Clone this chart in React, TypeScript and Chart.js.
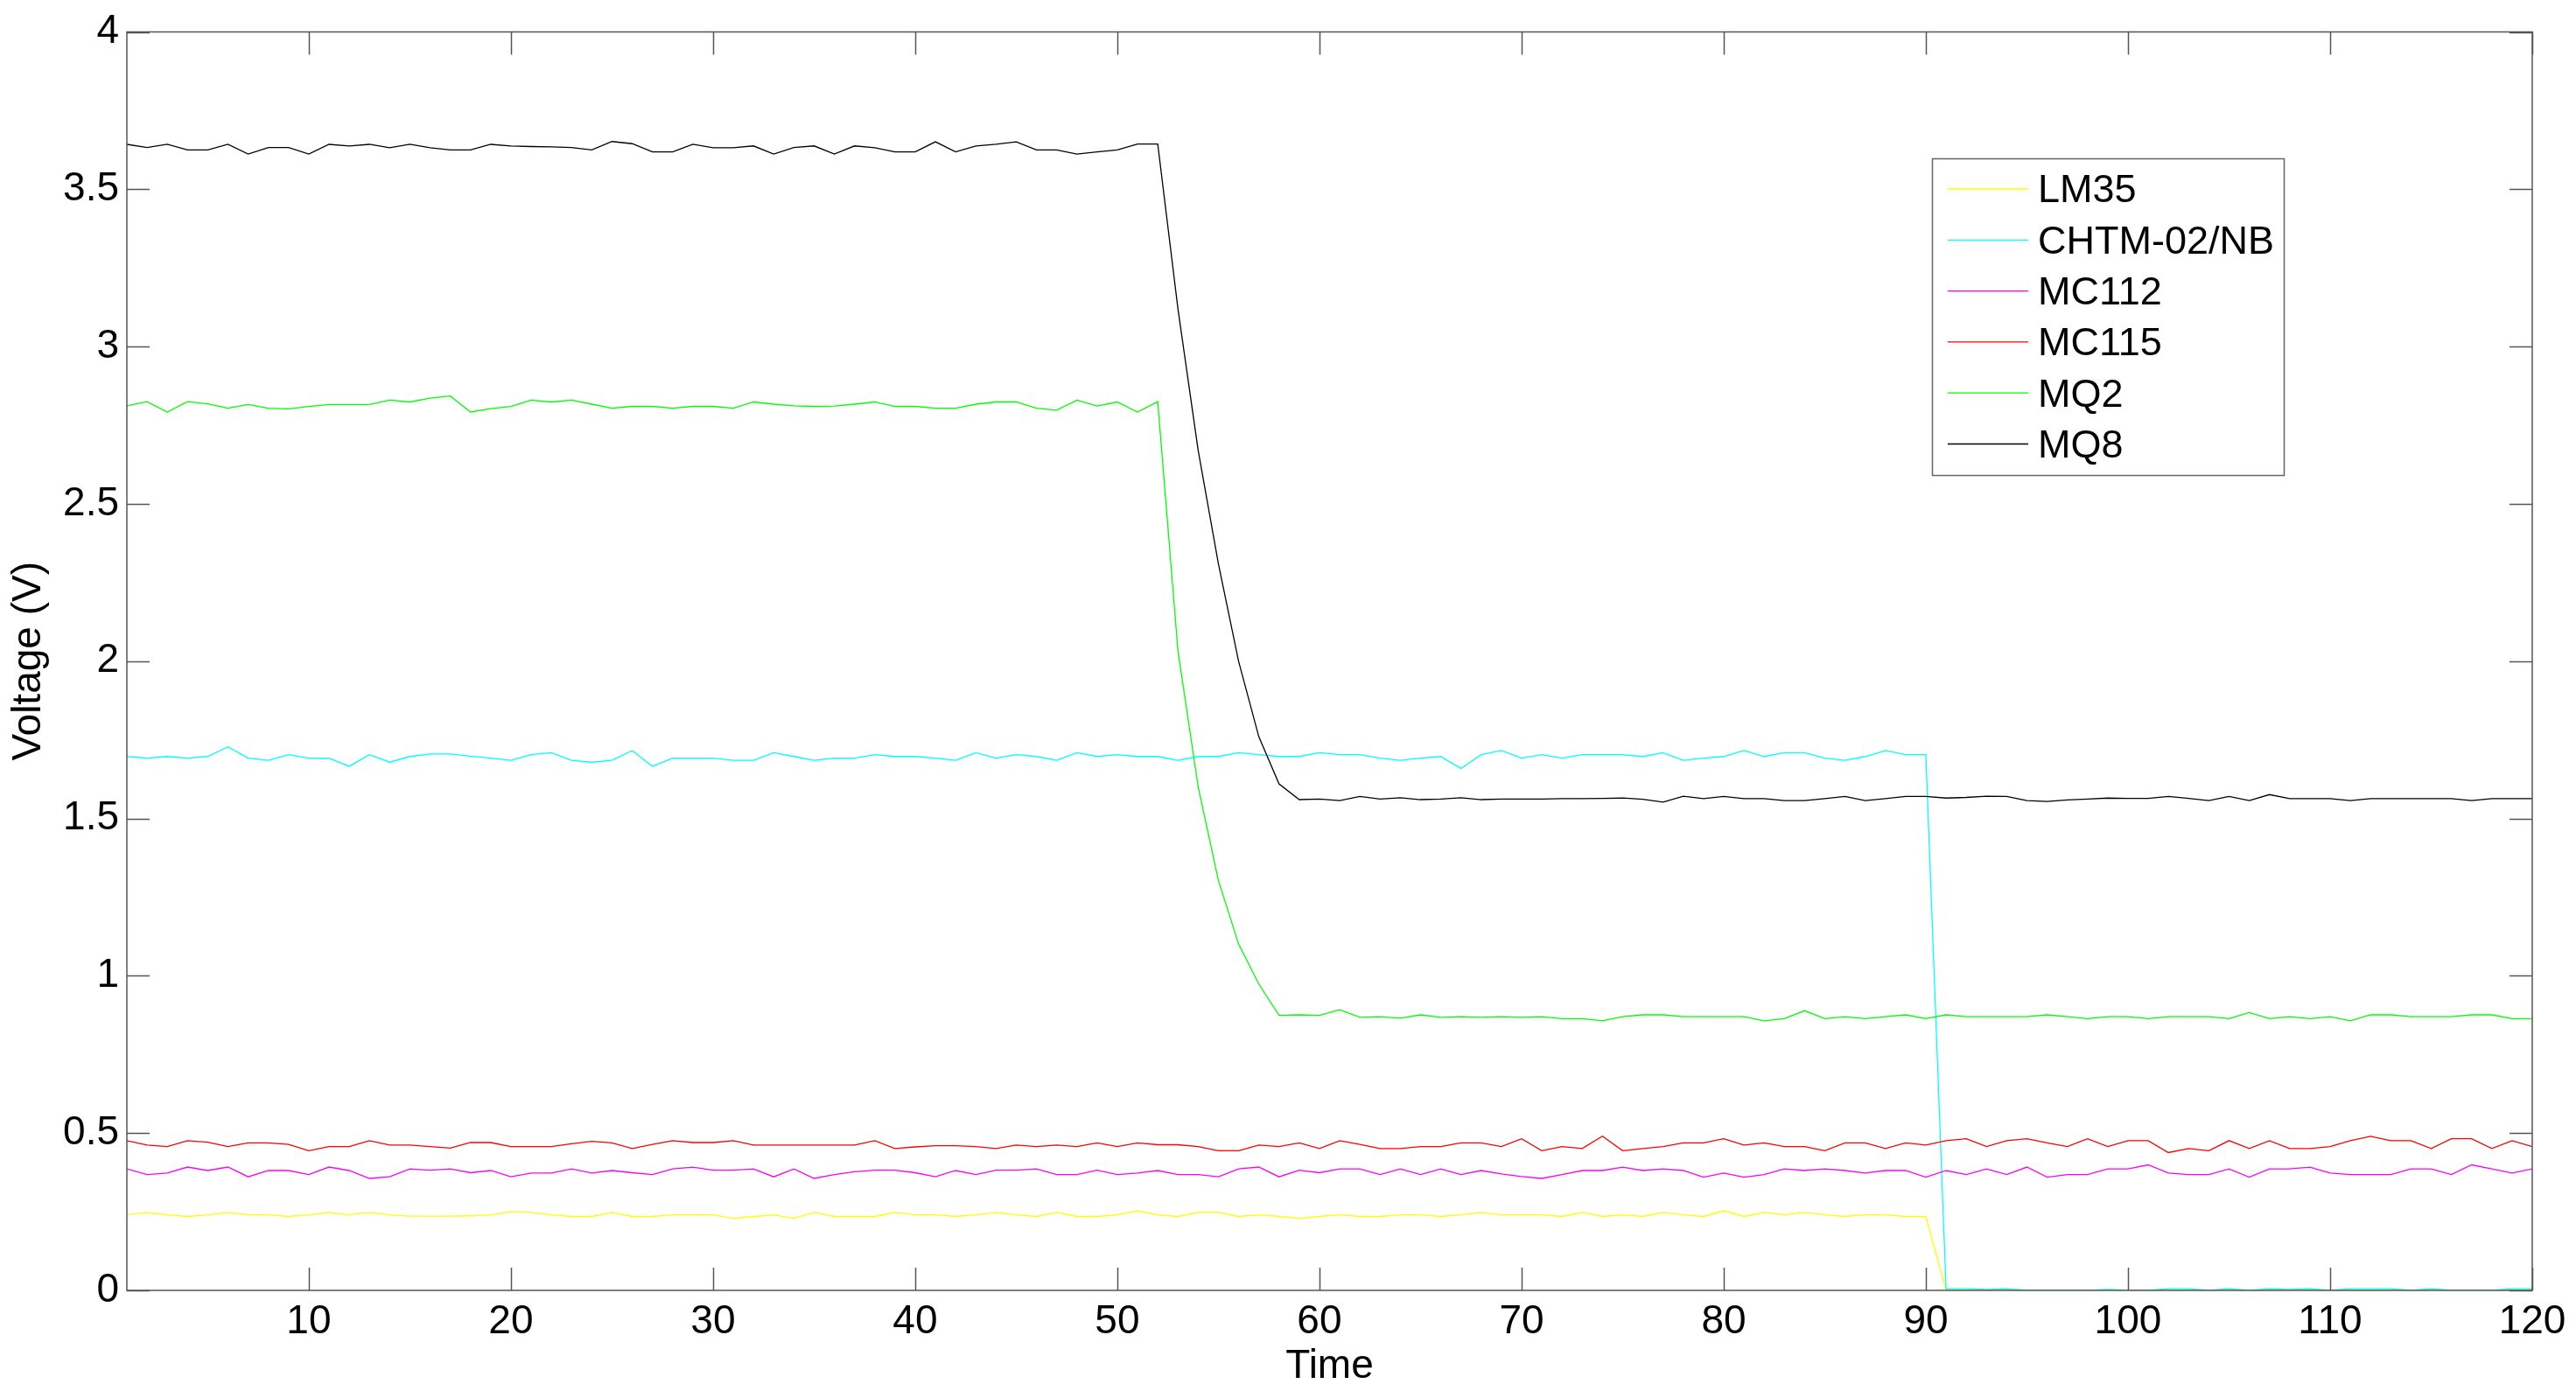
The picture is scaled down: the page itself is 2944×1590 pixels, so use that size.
import React, { useEffect, useRef } from "react";
import { Chart, registerables } from "chart.js";

Chart.register(...registerables);

const time: number[] = [
  1, 2, 3, 4, 5, 6, 7, 8, 9, 10, 11, 12, 13, 14, 15, 16, 17, 18, 19, 20,
  21, 22, 23, 24, 25, 26, 27, 28, 29, 30, 31, 32, 33, 34, 35, 36, 37, 38, 39, 40,
  41, 42, 43, 44, 45, 46, 47, 48, 49, 50, 51, 52, 53, 54, 55, 56, 57, 58, 59, 60,
  61, 62, 63, 64, 65, 66, 67, 68, 69, 70, 71, 72, 73, 74, 75, 76, 77, 78, 79, 80,
  81, 82, 83, 84, 85, 86, 87, 88, 89, 90, 91, 92, 93, 94, 95, 96, 97, 98, 99, 100,
  101, 102, 103, 104, 105, 106, 107, 108, 109, 110, 111, 112, 113, 114, 115, 116, 117, 118, 119, 120,
];

const lm35: number[] = [
  0.240, 0.248, 0.240, 0.235, 0.240, 0.248, 0.240, 0.240, 0.235, 0.240,
  0.248, 0.240, 0.248, 0.240, 0.236, 0.236, 0.236, 0.237, 0.240, 0.250,
  0.248, 0.240, 0.235, 0.235, 0.248, 0.235, 0.235, 0.240, 0.240, 0.240,
  0.229, 0.235, 0.240, 0.229, 0.248, 0.235, 0.235, 0.235, 0.248, 0.240,
  0.240, 0.235, 0.240, 0.248, 0.240, 0.235, 0.248, 0.235, 0.235, 0.240,
  0.253, 0.240, 0.235, 0.248, 0.248, 0.235, 0.240, 0.235, 0.229, 0.235,
  0.240, 0.235, 0.235, 0.240, 0.240, 0.235, 0.240, 0.248, 0.240, 0.240,
  0.240, 0.235, 0.248, 0.235, 0.240, 0.235, 0.248, 0.240, 0.235, 0.253,
  0.235, 0.248, 0.240, 0.248, 0.240, 0.235, 0.240, 0.240, 0.235, 0.235,
  0, 0, 0, 0, 0, 0, 0, 0, 0, 0,
  0, 0, 0, 0, 0, 0, 0, 0, 0, 0,
  0, 0, 0, 0, 0, 0, 0, 0, 0, 0,
];

const chtm: number[] = [
  1.697, 1.692, 1.697, 1.692, 1.697, 1.728, 1.692, 1.685, 1.703, 1.692,
  1.692, 1.666, 1.703, 1.679, 1.697, 1.705, 1.705, 1.698, 1.692, 1.685,
  1.703, 1.709, 1.685, 1.679, 1.685, 1.716, 1.666, 1.692, 1.692, 1.692,
  1.685, 1.685, 1.709, 1.697, 1.685, 1.692, 1.692, 1.703, 1.697, 1.697,
  1.692, 1.685, 1.709, 1.692, 1.703, 1.697, 1.685, 1.709, 1.697, 1.703,
  1.697, 1.697, 1.685, 1.697, 1.697, 1.709, 1.703, 1.697, 1.697, 1.709,
  1.703, 1.703, 1.692, 1.685, 1.692, 1.697, 1.659, 1.703, 1.716, 1.692,
  1.703, 1.692, 1.703, 1.703, 1.703, 1.697, 1.709, 1.685, 1.692, 1.697,
  1.716, 1.697, 1.709, 1.709, 1.692, 1.685, 1.697, 1.716, 1.703, 1.703,
  0.005, 0.005, 0.003, 0.005, 0, 0, 0, 0, 0.003, 0,
  0, 0.005, 0.005, 0, 0.005, 0, 0.005, 0.003, 0.005, 0,
  0.005, 0.005, 0.005, 0, 0.005, 0, 0, 0, 0.005, 0.005,
];

const mc112: number[] = [
  0.386, 0.368, 0.373, 0.392, 0.381, 0.392, 0.361, 0.381, 0.381, 0.368,
  0.392, 0.381, 0.356, 0.361, 0.386, 0.382, 0.386, 0.374, 0.381, 0.361,
  0.373, 0.373, 0.386, 0.373, 0.381, 0.374, 0.368, 0.386, 0.392, 0.382,
  0.382, 0.386, 0.361, 0.386, 0.356, 0.368, 0.377, 0.382, 0.382, 0.374,
  0.361, 0.381, 0.368, 0.382, 0.382, 0.386, 0.368, 0.368, 0.382, 0.368,
  0.373, 0.381, 0.368, 0.368, 0.361, 0.386, 0.392, 0.361, 0.382, 0.374,
  0.386, 0.386, 0.368, 0.386, 0.368, 0.386, 0.368, 0.381, 0.370, 0.362,
  0.356, 0.368, 0.381, 0.381, 0.392, 0.381, 0.386, 0.381, 0.360, 0.373,
  0.360, 0.368, 0.386, 0.381, 0.386, 0.381, 0.373, 0.381, 0.381, 0.360,
  0.381, 0.368, 0.386, 0.368, 0.392, 0.360, 0.368, 0.368, 0.386, 0.386,
  0.399, 0.373, 0.368, 0.368, 0.386, 0.360, 0.386, 0.386, 0.392, 0.373,
  0.368, 0.368, 0.368, 0.386, 0.386, 0.368, 0.399, 0.386, 0.373, 0.386,
];

const mc115: number[] = [
  0.476, 0.462, 0.457, 0.476, 0.471, 0.457, 0.469, 0.469, 0.464, 0.444,
  0.457, 0.457, 0.476, 0.462, 0.462, 0.457, 0.452, 0.470, 0.470, 0.457,
  0.457, 0.457, 0.466, 0.474, 0.469, 0.451, 0.464, 0.476, 0.470, 0.470,
  0.476, 0.462, 0.462, 0.462, 0.462, 0.462, 0.462, 0.476, 0.451, 0.456,
  0.460, 0.460, 0.457, 0.451, 0.462, 0.457, 0.462, 0.457, 0.469, 0.457,
  0.469, 0.463, 0.463, 0.457, 0.444, 0.444, 0.462, 0.457, 0.469, 0.451,
  0.476, 0.464, 0.451, 0.451, 0.457, 0.457, 0.469, 0.469, 0.457, 0.482,
  0.444, 0.457, 0.451, 0.490, 0.444, 0.451, 0.457, 0.469, 0.469, 0.482,
  0.462, 0.469, 0.457, 0.457, 0.444, 0.469, 0.469, 0.451, 0.469, 0.462,
  0.476, 0.482, 0.457, 0.476, 0.482, 0.469, 0.457, 0.482, 0.457, 0.476,
  0.476, 0.438, 0.451, 0.444, 0.476, 0.451, 0.476, 0.451, 0.451, 0.457,
  0.476, 0.490, 0.476, 0.476, 0.451, 0.482, 0.482, 0.451, 0.476, 0.457,
];

const mq2: number[] = [
  2.812, 2.825, 2.792, 2.825, 2.818, 2.804, 2.816, 2.804, 2.802, 2.810,
  2.816, 2.816, 2.816, 2.830, 2.824, 2.836, 2.843, 2.792, 2.803, 2.810,
  2.830, 2.824, 2.830, 2.817, 2.804, 2.810, 2.810, 2.804, 2.810, 2.810,
  2.804, 2.824, 2.817, 2.812, 2.810, 2.811, 2.817, 2.824, 2.810, 2.810,
  2.804, 2.804, 2.817, 2.824, 2.824, 2.804, 2.798, 2.830, 2.811, 2.824,
  2.792, 2.825, 2.033, 1.601, 1.303, 1.101, 0.974, 0.874, 0.876, 0.874,
  0.892, 0.868, 0.870, 0.865, 0.876, 0.868, 0.870, 0.868, 0.870, 0.868,
  0.870, 0.864, 0.864, 0.857, 0.870, 0.876, 0.876, 0.870, 0.870, 0.870,
  0.870, 0.857, 0.864, 0.889, 0.864, 0.870, 0.864, 0.870, 0.876, 0.864,
  0.876, 0.870, 0.870, 0.870, 0.870, 0.876, 0.870, 0.864, 0.870, 0.870,
  0.864, 0.870, 0.870, 0.870, 0.864, 0.883, 0.864, 0.870, 0.864, 0.870,
  0.857, 0.876, 0.876, 0.870, 0.870, 0.870, 0.876, 0.876, 0.864, 0.864,
];

const mq8: number[] = [
  3.643, 3.633, 3.643, 3.625, 3.625, 3.643, 3.612, 3.633, 3.633, 3.612,
  3.643, 3.638, 3.643, 3.632, 3.643, 3.632, 3.625, 3.625, 3.643, 3.638,
  3.636, 3.635, 3.633, 3.625, 3.652, 3.645, 3.619, 3.619, 3.643, 3.632,
  3.632, 3.638, 3.612, 3.633, 3.638, 3.612, 3.638, 3.632, 3.619, 3.619,
  3.651, 3.619, 3.638, 3.643, 3.651, 3.625, 3.625, 3.612, 3.619, 3.625,
  3.644, 3.644, 3.12, 2.67, 2.31, 2.0, 1.76, 1.61, 1.560, 1.562,
  1.557, 1.570, 1.562, 1.566, 1.560, 1.562, 1.566, 1.560, 1.562, 1.562,
  1.562, 1.563, 1.563, 1.564, 1.565, 1.561, 1.552, 1.571, 1.563, 1.570,
  1.563, 1.563, 1.557, 1.557, 1.563, 1.570, 1.557, 1.563, 1.570, 1.570,
  1.565, 1.567, 1.571, 1.570, 1.557, 1.554, 1.559, 1.562, 1.565, 1.564,
  1.564, 1.570, 1.564, 1.557, 1.570, 1.557, 1.576, 1.563, 1.563, 1.563,
  1.557, 1.563, 1.563, 1.563, 1.563, 1.563, 1.557, 1.563, 1.563, 1.563,
];

const seriesNames: string[] = ["LM35", "CHTM-02/NB", "MC112", "MC115", "MQ2", "MQ8"];
const seriesColors: string[] = ["#ffff00", "#00ffff", "#ff00ff", "#ff0000", "#00ff00", "#000000"];
const seriesValues: number[][] = [lm35, chtm, mc112, mc115, mq2, mq8];

const xTickValues: number[] = [10, 20, 30, 40, 50, 60, 70, 80, 90, 100, 110, 120];
const yTickValues: number[] = [0, 0.5, 1, 1.5, 2, 2.5, 3, 3.5, 4];

const FONT = "'Liberation Sans', Arial, sans-serif";

const boxPlugin = {
  id: "matlabBox",
  afterDatasetsDraw(chart: any) {
    const { ctx, chartArea, scales } = chart;
    const { left, right, top, bottom } = chartArea;
    const tl = 26;
    ctx.save();
    ctx.strokeStyle = "#555555";
    ctx.lineWidth = 1.5;
    ctx.beginPath();
    ctx.rect(left, top, right - left, bottom - top);
    ctx.stroke();
    ctx.beginPath();
    for (const v of xTickValues) {
      const px = Math.round(scales.x.getPixelForValue(v)) + 0.5;
      ctx.moveTo(px, bottom);
      ctx.lineTo(px, bottom - tl);
      ctx.moveTo(px, top);
      ctx.lineTo(px, top + tl);
    }
    for (const v of yTickValues) {
      const py = Math.round(scales.y.getPixelForValue(v)) + 0.5;
      ctx.moveTo(left, py);
      ctx.lineTo(left + tl, py);
      ctx.moveTo(right, py);
      ctx.lineTo(right - tl, py);
    }
    ctx.stroke();

    // legend
    const lx = 2208, ly = 181, lw = 402, lh = 362;
    ctx.fillStyle = "#ffffff";
    ctx.fillRect(lx, ly, lw, lh);
    ctx.strokeStyle = "#666666";
    ctx.lineWidth = 1.5;
    ctx.strokeRect(lx + 0.5, ly + 0.5, lw, lh);
    ctx.font = `45px ${FONT}`;
    ctx.textBaseline = "middle";
    ctx.textAlign = "left";
    seriesNames.forEach((name, k) => {
      const y = ly + 35 + k * 58.3;
      ctx.strokeStyle = seriesColors[k];
      ctx.lineWidth = 1.3;
      ctx.beginPath();
      ctx.moveTo(lx + 18, y);
      ctx.lineTo(lx + 110, y);
      ctx.stroke();
      ctx.fillStyle = "#000000";
      ctx.fillText(name, lx + 121, y + 3);
    });
    ctx.restore();
  },
};

export default function App() {
  const canvasRef = useRef<HTMLCanvasElement | null>(null);

  useEffect(() => {
    const canvas = canvasRef.current;
    if (!canvas) return;
    const datasets = seriesNames.map((name, k) => ({
      label: name,
      data: time.map((t, i) => ({ x: t, y: seriesValues[k][i] })),
      borderColor: seriesColors[k],
      backgroundColor: seriesColors[k],
      borderWidth: 1.3,
      pointRadius: 0,
      tension: 0,
      fill: false,
      order: seriesNames.length - k,
    }));
    const chart = new Chart(canvas, {
      type: "line",
      data: { datasets },
      plugins: [boxPlugin],
      options: {
        responsive: false,
        animation: false,
        devicePixelRatio: 1,
        layout: { padding: { left: 0, top: 32, right: 50, bottom: 0 } },
        plugins: {
          legend: { display: false },
          tooltip: { enabled: false },
        },
        scales: {
          x: {
            type: "linear",
            min: 1,
            max: 120,
            afterBuildTicks: (s: any) => {
              s.ticks = xTickValues.map((v) => ({ value: v }));
            },
            afterFit: (s: any) => {
              s.height = 115;
            },
            grid: { display: false, drawTicks: false },
            border: { display: false },
            ticks: {
              autoSkip: false,
              maxRotation: 0,
              padding: 9,
              color: "#000000",
              font: { family: FONT, size: 46 },
            },
            title: {
              display: true,
              text: "Time",
              color: "#000000",
              font: { family: FONT, size: 46 },
              padding: { top: 0, bottom: 0 },
            },
          },
          y: {
            type: "linear",
            min: 0,
            max: 4,
            afterBuildTicks: (s: any) => {
              s.ticks = yTickValues.map((v) => ({ value: v }));
            },
            afterFit: (s: any) => {
              s.width = 145;
            },
            grid: { display: false, drawTicks: false },
            border: { display: false },
            ticks: {
              autoSkip: false,
              padding: 9,
              color: "#000000",
              font: { family: FONT, size: 46 },
              callback: (v: any) => String(v),
            },
            title: {
              display: true,
              text: "Voltage (V)",
              color: "#000000",
              font: { family: FONT, size: 46 },
              padding: { top: 6, bottom: 0 },
            },
          },
        },
      },
    });
    return () => chart.destroy();
  }, []);

  return (
    <div style={{ position: "fixed", left: 0, top: 0, width: 2944, height: 1590, background: "#ffffff" }}>
      <canvas ref={canvasRef} width={2944} height={1590} style={{ display: "block", width: 2944, height: 1590 }} />
    </div>
  );
}
